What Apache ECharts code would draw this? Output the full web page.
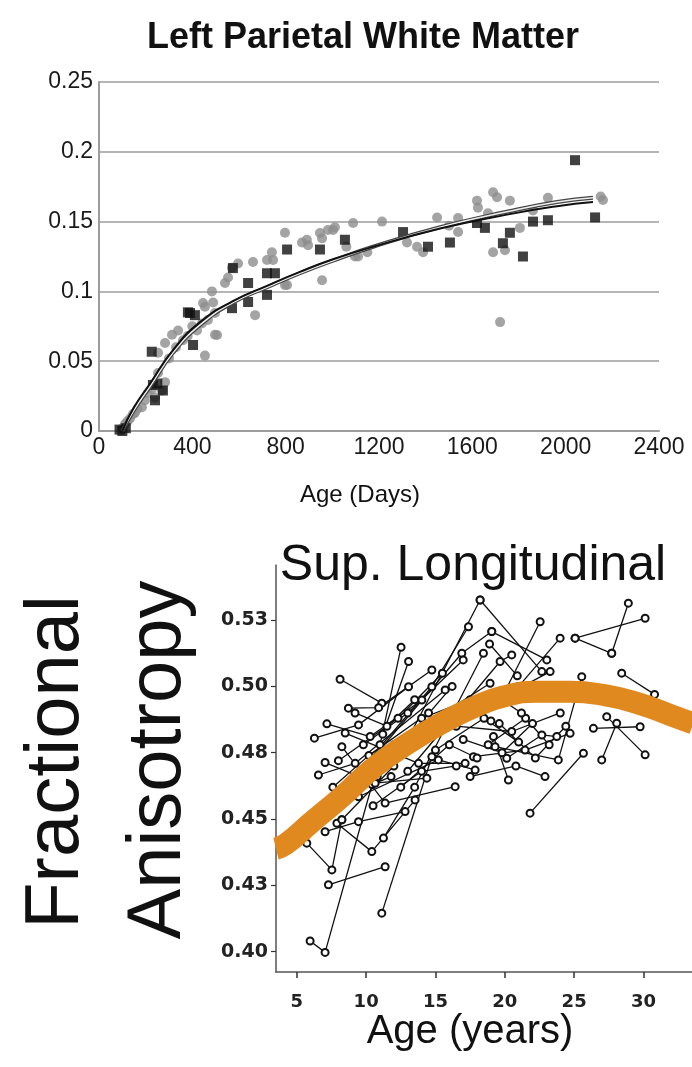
<!DOCTYPE html>
<html>
<head>
<meta charset="utf-8">
<script src="https://cdn.jsdelivr.net/npm/echarts@6/dist/echarts.min.js"></script>
<style>
html,body{margin:0;padding:0;background:#fff;}
#chart{width:692px;height:1067px;}
</style>
</head>
<body>
<div id="chart"></div>
<script>
// ---------- Top chart: Left Parietal White Matter ----------
const topTitle = 'Left Parietal White Matter';
const topXName = 'Age (Days)';
const topXTicks = [0, 400, 800, 1200, 1600, 2000, 2400];
const topYTicks = [0, 0.05, 0.1, 0.15, 0.2, 0.25];

const grayPoints = [
  [100,0.002],[112,0.005],[122,0.007],[133,0.009],[145,0.012],[154,0.013],[165,0.016],[184,0.017],
  [197,0.022],[210,0.027],[227,0.030],[240,0.024],[253,0.0415],[270,0.029],[283,0.035],[253,0.056],
  [283,0.063],[313,0.069],[339,0.072],[441,0.077],[467,0.0795],[454,0.054],[497,0.069],[497,0.0845],
  [506,0.0688],[446,0.0917],[454,0.089],[484,0.1],[489,0.092],[540,0.106],[553,0.11],[570,0.117],
  [596,0.12],[660,0.121],[669,0.083],[720,0.1225],[741,0.128],[746,0.1225],[797,0.142],[797,0.1045],
  [806,0.1046],[870,0.135],[891,0.137],[896,0.133],[947,0.1418],[956,0.138],[956,0.108],[981,0.144],
  [1003,0.144],[1011,0.146],[1089,0.149],[1097,0.125],[1110,0.125],[1213,0.150],[1320,0.135],
  [1363,0.132],[1389,0.128],[1449,0.153],[1539,0.1525],[1539,0.1425],[1500,0.147],[1620,0.165],
  [1624,0.160],[1667,0.156],[1689,0.171],[1706,0.1675],[1761,0.165],[1689,0.128],[1740,0.1295],
  [1804,0.1455],[1860,0.158],[1924,0.167],[2160,0.1655],[2150,0.168],[1719,0.078],[1150,0.128],
  [1060,0.132],[380,0.068],[400,0.075],[420,0.072],[360,0.065],[300,0.052],[330,0.06]
];
const blackPoints = [
  [88,0.001],[100,0.0],[115,0.002],[226,0.0568],[231,0.033],[274,0.029],[250,0.034],[240,0.022],
  [381,0.085],[390,0.0845],[411,0.083],[403,0.0616],[570,0.088],[574,0.1167],[639,0.0924],[639,0.106],
  [720,0.0975],[720,0.113],[754,0.113],[806,0.130],[947,0.130],[1054,0.137],[1303,0.1425],[1410,0.132],
  [1504,0.135],[1620,0.149],[1654,0.1455],[1731,0.1345],[1761,0.142],[1817,0.125],[1860,0.150],
  [1924,0.151],[2040,0.194],[2126,0.153]
];
const fitBlack = [
  [100,0],[150,0.017],[219,0.034],[317,0.058],[433,0.078],[574,0.093],[720,0.104],[861,0.114],
  [1003,0.123],[1175,0.132],[1462,0.145],[1748,0.155],[1963,0.161],[2117,0.164]
];
const fitGray = [
  [100,0],[150,0.015],[219,0.032],[317,0.056],[433,0.076],[574,0.092],[720,0.103],[861,0.113],
  [1003,0.122],[1175,0.132],[1462,0.146],[1748,0.157],[1963,0.164],[2117,0.167]
];

// ---------- Bottom chart: Sup. Longitudinal ----------
const botTitle = 'Sup. Longitudinal';
const botXName = 'Age (years)';
const botYName = ['Fractional', 'Anisotropy'];
const botXTicks = [5, 10, 15, 20, 25, 30];
const botYTicks = [0.40, 0.425, 0.45, 0.475, 0.50, 0.525];
const botYLabels = ['0.40', '0.43', '0.45', '0.48', '0.50', '0.53'];

const subjects = [
  [[5.96,0.404],[7.04,0.3997],[10.43,0.463]],
  [[11.13,0.4145],[14.74,0.4735]],
  [[7.28,0.4252],[11.37,0.432]],
  [[5.72,0.4409],[7.53,0.4308],[8.25,0.4497]],
  [[7.89,0.4484],[10.41,0.4377],[13.53,0.4572]],
  [[7.04,0.4452],[9.45,0.449],[12.81,0.4528]],
  [[6.27,0.4805],[9.45,0.4855],[13.06,0.4999]],
  [[8.12,0.5027],[11.13,0.4937]],
  [[11.0,0.478],[12.52,0.5148]],
  [[11.2,0.482],[13.06,0.5094]],
  [[8.72,0.4918],[10.9,0.492],[14.74,0.5062]],
  [[7.17,0.4859],[10.29,0.4811],[14.02,0.4949]],
  [[6.56,0.4666],[9.21,0.471],[15.70,0.4987]],
  [[7.04,0.4713],[10.65,0.4635],[14.38,0.4654]],
  [[8.25,0.4773],[11.37,0.456],[16.42,0.4622]],
  [[8.49,0.4824],[13.78,0.471],[17.14,0.471]],
  [[9.45,0.4584],[15.21,0.4723],[17.86,0.4685]],
  [[8.25,0.4497],[12.0,0.47],[18.22,0.5326]],
  [[9.0,0.465],[14.74,0.4999],[17.38,0.5225]],
  [[10.0,0.470],[16.90,0.5125],[19.06,0.5207]],
  [[11.25,0.4428],[13.5,0.462],[18.46,0.5125]],
  [[12.0,0.478],[18.94,0.5012]],
  [[13.0,0.468],[19.66,0.5094],[20.50,0.5119]],
  [[18.22,0.5326],[22.67,0.5056]],
  [[19.06,0.5207],[23.03,0.51]],
  [[20.0,0.498],[22.55,0.5244]],
  [[21.0,0.50],[23.99,0.5182]],
  [[19.5,0.495],[23.27,0.5056]],
  [[25.07,0.5182],[30.12,0.5257]],
  [[27.71,0.5125],[28.91,0.5314]],
  [[25.07,0.5182],[27.71,0.5125]],
  [[28.43,0.505],[30.8,0.497]],
  [[21.82,0.4522],[25.67,0.4748]],
  [[27.35,0.4886],[30.12,0.4742]],
  [[26.99,0.4723],[28.07,0.4861]],
  [[26.39,0.4842],[29.76,0.4848]],
  [[19.18,0.4811],[20.26,0.4647]],
  [[17.74,0.4735],[21.46,0.476],[24.71,0.4823]],
  [[19.30,0.4773],[23.86,0.4723],[25.55,0.5037]],
  [[20.14,0.4729],[22.67,0.4817],[23.75,0.4811]],
  [[16.5,0.485],[20.5,0.483],[24.0,0.490]],
  [[15.0,0.476],[18.5,0.488],[21.0,0.479]],
  [[17.0,0.480],[19.8,0.475],[22.0,0.486]],
  [[12.5,0.462],[16.0,0.478],[18.0,0.473]],
  [[10.5,0.455],[14.0,0.468],[16.5,0.470]],
  [[14.0,0.488],[17.5,0.495],[19.0,0.487]],
  [[8.0,0.472],[12.3,0.488],[15.5,0.505]],
  [[9.8,0.478],[13.0,0.49],[17.0,0.51]],
  [[7.6,0.462],[10.2,0.474],[14.5,0.49]],
  [[9.2,0.49],[11.5,0.485],[13.5,0.495]],
  [[10.8,0.466],[12.9,0.48],[16.2,0.50]],
  [[6.8,0.452],[9.6,0.462],[12.2,0.474]],
  [[18.8,0.478],[21.5,0.488],[23.2,0.478]],
  [[19.6,0.486],[22.2,0.473],[24.4,0.485]],
  [[17.5,0.466],[20.8,0.47],[22.9,0.466]],
  [[16.8,0.49],[19.2,0.497],[21.2,0.49]],
  [[18.9,0.516],[20.9,0.504]],
  [[8.6,0.459],[11.8,0.466]]
];
const orangeFit = [
  [3.5,0.4388],[4.2,0.4405],[6.0,0.4485],[8.25,0.4584],[10.65,0.4698],[13.06,0.4787],[15.46,0.4862],
  [17.86,0.4924],[19.9,0.4962],[22.3,0.498],[24.7,0.498],[27.1,0.4968],[29.5,0.4938],[31.9,0.4893],[33.6,0.486]
];

// ---------- build ----------
const chart = echarts.init(document.getElementById('chart'), null, {renderer: 'canvas'});

const series = [];
series.push({type:'scatter', xAxisIndex:0, yAxisIndex:0, data: grayPoints, symbol:'circle', symbolSize:10,
  itemStyle:{color:'#8d8d8d'}, z:2, silent:true});
series.push({type:'scatter', xAxisIndex:0, yAxisIndex:0, data: blackPoints, symbol:'rect', symbolSize:10,
  itemStyle:{color:'#111'}, z:3, silent:true});
series.push({type:'line', xAxisIndex:0, yAxisIndex:0, data: fitGray, smooth:true, showSymbol:false, symbol:'none',
  lineStyle:{color:'#444', width:4}, z:4, silent:true});
series.push({type:'line', xAxisIndex:0, yAxisIndex:0, data: fitGray, smooth:true, showSymbol:false, symbol:'none',
  lineStyle:{color:'#eeeeee', width:1.5}, z:5, silent:true});
series.push({type:'line', xAxisIndex:0, yAxisIndex:0, data: fitBlack, smooth:true, showSymbol:false, symbol:'none',
  lineStyle:{color:'#111', width:2}, z:6, silent:true});

subjects.forEach(function (s) {
  series.push({type:'line', xAxisIndex:1, yAxisIndex:1, data: s, symbol:'emptyCircle', symbolSize:7,
    showSymbol:true, itemStyle:{color:'#111', borderWidth:1.3}, lineStyle:{color:'#111', width:1.3}, z:3, silent:true});
});
series.push({type:'line', xAxisIndex:1, yAxisIndex:1, data: orangeFit, smooth:true, symbol:'none', showSymbol:false,
  clip:false, lineStyle:{color:'#E0891F', width:22, cap:'butt'}, z:10, silent:true});

function yLabel(v) {
  for (let i = 0; i < botYTicks.length; i++) if (Math.abs(botYTicks[i] - v) < 1e-6) return botYLabels[i];
  return '';
}

const option = {
  animation: false,
  backgroundColor: '#fff',
  grid: [
    {left: 99, top: 82, width: 560, height: 349},
    {left: 276, top: 565, width: 416, height: 407}
  ],
  xAxis: [
    {gridIndex:0, type:'value', min: topXTicks[0], max: topXTicks[topXTicks.length-1], interval: 400,
      axisLine:{onZero:false, lineStyle:{color:'#9c9c9c', width:2}}, axisTick:{show:false}, splitLine:{show:false},
      axisLabel:{fontFamily:'Liberation Sans', fontSize:23, color:'#1a1a1a', margin:5, showMinLabel:true, showMaxLabel:true,
        formatter: function (v) { return String(v); }}},
    {gridIndex:1, type:'value', min:3.5, max:33.5,
      axisLine:{onZero:false, lineStyle:{color:'#555', width:1.5}},
      axisTick:{show:true, customValues: botXTicks, length:6, lineStyle:{color:'#333', width:1.5}},
      axisLabel:{customValues: botXTicks, fontFamily:'DejaVu Sans', fontWeight:'bold', fontSize:18, color:'#222', margin:21},
      splitLine:{show:false}}
  ],
  yAxis: [
    {gridIndex:0, type:'value', min: 0, max: 0.25, interval: 0.05,
      axisLine:{show:true, onZero:false, lineStyle:{color:'#9c9c9c', width:2}}, axisTick:{show:false},
      splitLine:{show:true, lineStyle:{color:'#9c9c9c', width:1.6}},
      axisLabel:{fontFamily:'Liberation Sans', fontSize:23, color:'#1a1a1a', margin:6,
        formatter: function (v) { return String(v); }}},
    {gridIndex:1, type:'value', min:0.3923, max:0.5458,
      axisLine:{show:true, onZero:false, lineStyle:{color:'#555', width:1.5}},
      axisTick:{show:true, customValues: botYTicks, length:5, lineStyle:{color:'#333', width:1.2}},
      axisLabel:{customValues: botYTicks, formatter: yLabel, fontFamily:'DejaVu Sans', fontWeight:'bold', fontSize:19, color:'#222', margin:8},
      splitLine:{show:false}}
  ],
  graphic: [
    {type:'text', x:363, y:38, style:{text: topTitle, fontFamily:'Liberation Sans', fontWeight:'bold', fontSize:36,
      fill:'#111', align:'center', verticalAlign:'middle'}},
    {type:'text', x:360, y:495, style:{text: topXName, fontFamily:'Liberation Sans', fontSize:24,
      fill:'#111', align:'center', verticalAlign:'middle'}},
    {type:'text', x:473, y:566, style:{text: botTitle, fontFamily:'Liberation Sans', fontSize:50,
      fill:'#111', align:'center', verticalAlign:'middle'}},
    {type:'text', x:470, y:1032, style:{text: botXName, fontFamily:'Liberation Sans', fontSize:40,
      fill:'#111', align:'center', verticalAlign:'middle'}},
    {type:'text', x:57, y:762, rotation: Math.PI/2, style:{text: botYName[0], fontFamily:'Liberation Sans', fontSize:76,
      fill:'#111', align:'center', verticalAlign:'middle'}},
    {type:'text', x:159, y:760, rotation: Math.PI/2, style:{text: botYName[1], fontFamily:'Liberation Sans', fontSize:76,
      fill:'#111', align:'center', verticalAlign:'middle'}}
  ],
  series: series
};
chart.setOption(option);
</script>
</body>
</html>
